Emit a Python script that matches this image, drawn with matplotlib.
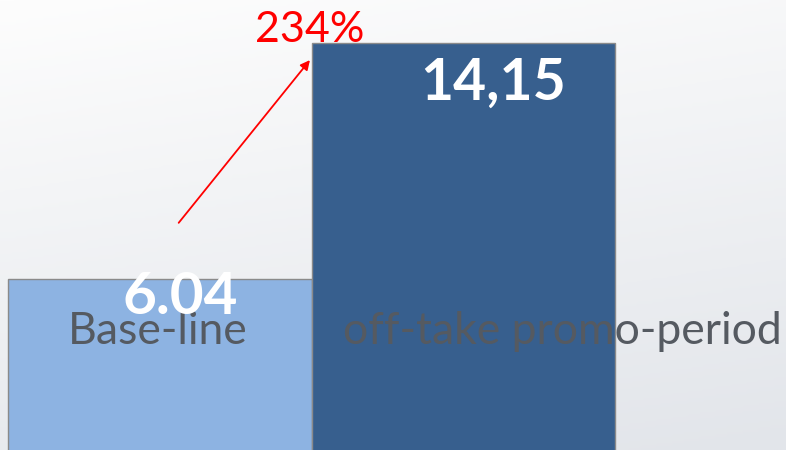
import numpy as np
import matplotlib.pyplot as plt

# data
categories = ['Base-line', 'off-take promo-period']
values = [6.04, 14.15]
value_labels = ['6.04', '14,15']
growth_label = '234%'

bar_colors = ['#8DB3E2', '#375F8E']

fig = plt.figure(figsize=(7.86, 4.5), dpi=100)

# background gradient
bg = fig.add_axes([0, 0, 1, 1], zorder=0)
yy = np.linspace(0, 1, 200)[:, None]
xx = np.linspace(0, 1, 200)[None, :]
grad = 0.55 * yy + 0.15 * xx
bg.imshow(grad, cmap=plt.matplotlib.colors.LinearSegmentedColormap.from_list(
    'bg', ['#fdfdfd', '#e2e5ea']), aspect='auto', extent=[0, 1, 0, 1],
    origin='upper', vmin=0, vmax=0.7)
bg.axis('off')

ax = fig.add_axes([0, 0, 1, 1], zorder=1)
ax.patch.set_alpha(0)
x = np.arange(len(values))
ax.bar(x, values, width=1.0, color=bar_colors, edgecolor='#8a8a8a', linewidth=1.0, zorder=2)

ax.set_xlim(-0.527, 2.063)
ax.set_ylim(0.17, 15.63)
ax.axis('off')

# value labels
ax.text(0.066, values[0] - 0.62, value_labels[0], color='white', fontsize=42,
        fontweight='bold', family='Lato', ha='center', va='center', zorder=4)
ax.text(1.097, values[1] - 1.37, value_labels[1], color='white', fontsize=41,
        fontweight='bold', family='Lato', ha='center', va='center', zorder=4)

# category labels
ax.text(-0.006, 4.25, categories[0], color='#555a61', fontsize=32,
        family='Lato', ha='center', va='center', zorder=3)
ax.text(1.325, 4.25, categories[1], color='#555a61', fontsize=32,
        family='Lato', ha='center', va='center', zorder=3)

# growth arrow
ax.annotate('', xy=(0.5, 13.64), xytext=(0.056, 7.90),
            arrowprops=dict(arrowstyle='-|>', color='red', lw=1.3, mutation_scale=14),
            zorder=5)
ax.text(0.494, 14.60, growth_label, color='red', fontsize=31, family='Lato',
        ha='center', va='center', zorder=5)

plt.savefig('out.png', dpi=100)
